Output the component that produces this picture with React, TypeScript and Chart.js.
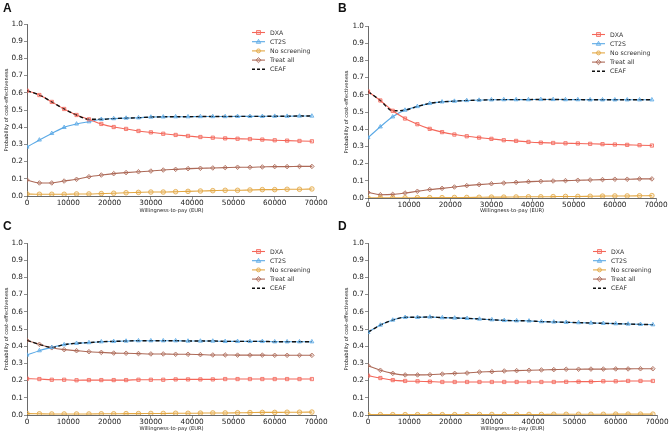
import React, { useEffect, useRef } from 'react';
import { Chart, registerables } from 'chart.js';
Chart.register(...registerables);

const WTP = [0, 3000, 6000, 9000, 12000, 15000, 18000, 21000, 24000, 27000, 30000, 33000, 36000, 39000, 42000, 45000, 48000, 51000, 54000, 57000, 60000, 63000, 66000, 69000];
const X_TICKS = [0, 10000, 20000, 30000, 40000, 50000, 60000, 70000];
const Y_TICKS = [0, 0.1, 0.2, 0.3, 0.4, 0.5, 0.6, 0.7, 0.8, 0.9, 1.0];
const SERIES_NAMES = ['DXA', 'CT2S', 'No screening', 'Treat all', 'CEAF'];
const X_TITLE = 'Willingness-to-pay (EUR)';
const Y_TITLE = 'Probability of cost-effectiveness';

// Panel A
const A_DXA = [0.612, 0.587, 0.547, 0.506, 0.471, 0.446, 0.419, 0.401, 0.390, 0.378, 0.370, 0.362, 0.355, 0.349, 0.343, 0.339, 0.335, 0.333, 0.331, 0.328, 0.324, 0.322, 0.320, 0.318];
const A_CT2S = [0.285, 0.326, 0.364, 0.399, 0.419, 0.432, 0.446, 0.450, 0.453, 0.455, 0.459, 0.460, 0.461, 0.461, 0.462, 0.462, 0.462, 0.463, 0.463, 0.463, 0.464, 0.464, 0.465, 0.465];
const A_NOSCR = [0.012, 0.010, 0.010, 0.010, 0.012, 0.012, 0.014, 0.016, 0.019, 0.021, 0.023, 0.023, 0.025, 0.027, 0.029, 0.031, 0.033, 0.033, 0.035, 0.037, 0.037, 0.039, 0.039, 0.041];
const A_TREAT = [0.093, 0.076, 0.076, 0.087, 0.097, 0.112, 0.122, 0.130, 0.136, 0.141, 0.145, 0.151, 0.155, 0.159, 0.161, 0.163, 0.165, 0.167, 0.167, 0.169, 0.171, 0.171, 0.172, 0.172];
const A_CEAF = [0.612, 0.587, 0.547, 0.506, 0.471, 0.446, 0.446, 0.450, 0.453, 0.455, 0.459, 0.460, 0.461, 0.461, 0.462, 0.462, 0.462, 0.463, 0.463, 0.463, 0.464, 0.464, 0.465, 0.465];

// Panel B
const B_DXA = [0.619, 0.567, 0.507, 0.462, 0.429, 0.402, 0.383, 0.369, 0.359, 0.351, 0.344, 0.336, 0.332, 0.326, 0.322, 0.320, 0.318, 0.317, 0.315, 0.313, 0.311, 0.309, 0.307, 0.305];
const B_CT2S = [0.351, 0.414, 0.472, 0.511, 0.532, 0.550, 0.559, 0.563, 0.567, 0.569, 0.571, 0.572, 0.572, 0.572, 0.573, 0.573, 0.572, 0.572, 0.571, 0.571, 0.571, 0.571, 0.571, 0.571];
const B_NOSCR = [0.001, 0.001, 0.001, 0.001, 0.002, 0.002, 0.002, 0.003, 0.003, 0.004, 0.005, 0.005, 0.006, 0.007, 0.007, 0.008, 0.009, 0.009, 0.010, 0.011, 0.012, 0.012, 0.013, 0.014];
const B_TREAT = [0.033, 0.019, 0.021, 0.029, 0.039, 0.049, 0.056, 0.064, 0.072, 0.078, 0.083, 0.087, 0.091, 0.095, 0.097, 0.099, 0.101, 0.103, 0.105, 0.107, 0.109, 0.109, 0.111, 0.111];
const B_CEAF = [0.619, 0.567, 0.507, 0.511, 0.532, 0.550, 0.559, 0.563, 0.567, 0.569, 0.571, 0.572, 0.572, 0.572, 0.573, 0.573, 0.572, 0.572, 0.571, 0.571, 0.571, 0.571, 0.571, 0.571];

// Panel C
const C_DXA = [0.211, 0.209, 0.205, 0.205, 0.202, 0.203, 0.203, 0.203, 0.203, 0.205, 0.205, 0.205, 0.207, 0.207, 0.207, 0.207, 0.209, 0.209, 0.209, 0.209, 0.209, 0.209, 0.209, 0.209];
const C_CT2S = [0.349, 0.374, 0.393, 0.409, 0.417, 0.421, 0.426, 0.428, 0.430, 0.432, 0.432, 0.432, 0.432, 0.430, 0.430, 0.430, 0.428, 0.428, 0.428, 0.428, 0.426, 0.426, 0.426, 0.426];
const C_NOSCR = [0.008, 0.007, 0.006, 0.006, 0.006, 0.006, 0.007, 0.007, 0.008, 0.008, 0.009, 0.009, 0.010, 0.010, 0.011, 0.012, 0.012, 0.013, 0.014, 0.015, 0.015, 0.016, 0.016, 0.017];
const C_TREAT = [0.434, 0.411, 0.391, 0.380, 0.374, 0.368, 0.364, 0.360, 0.359, 0.357, 0.355, 0.355, 0.353, 0.353, 0.351, 0.349, 0.349, 0.348, 0.348, 0.348, 0.347, 0.347, 0.347, 0.347];
const C_CEAF = [0.434, 0.411, 0.393, 0.409, 0.417, 0.421, 0.426, 0.428, 0.430, 0.432, 0.432, 0.432, 0.432, 0.430, 0.430, 0.430, 0.428, 0.428, 0.428, 0.428, 0.426, 0.426, 0.426, 0.426];

// Panel D
const D_DXA = [0.229, 0.215, 0.203, 0.198, 0.196, 0.194, 0.192, 0.192, 0.192, 0.192, 0.192, 0.192, 0.192, 0.192, 0.192, 0.192, 0.193, 0.194, 0.194, 0.196, 0.196, 0.198, 0.198, 0.198];
const D_CT2S = [0.481, 0.523, 0.552, 0.568, 0.568, 0.570, 0.566, 0.564, 0.562, 0.558, 0.554, 0.550, 0.548, 0.547, 0.543, 0.541, 0.539, 0.537, 0.535, 0.533, 0.531, 0.529, 0.527, 0.525];
const D_NOSCR = [0.002, 0.002, 0.002, 0.002, 0.002, 0.002, 0.002, 0.002, 0.002, 0.003, 0.003, 0.003, 0.003, 0.003, 0.003, 0.004, 0.004, 0.004, 0.004, 0.004, 0.005, 0.005, 0.005, 0.005];
const D_TREAT = [0.287, 0.260, 0.242, 0.233, 0.233, 0.234, 0.238, 0.242, 0.244, 0.250, 0.252, 0.256, 0.258, 0.260, 0.262, 0.264, 0.266, 0.266, 0.267, 0.267, 0.268, 0.268, 0.269, 0.269];
const D_CEAF = [0.481, 0.523, 0.552, 0.568, 0.568, 0.570, 0.566, 0.564, 0.562, 0.558, 0.554, 0.550, 0.548, 0.547, 0.543, 0.541, 0.539, 0.537, 0.535, 0.533, 0.531, 0.529, 0.527, 0.525];

const COLORS = ['#f4675a', '#5aa9e6', '#e3a845', '#ad6a58', '#111111'];
const FILLS = ['rgba(244,103,90,0.25)', 'rgba(90,169,230,0.25)', 'rgba(227,168,69,0.25)', 'rgba(173,106,88,0.25)', 'rgba(0,0,0,0)'];
const STYLES = ['rect', 'triangle', 'circle', 'rectRot', false];

type Panel = {
  letter: string;
  left: number; top: number; width: number; height: number;
  padL: number; padR: number; padT: number;
  yWidth: number; xHeight: number;
  series: number[][];
};

const PANELS: Panel[] = [
  { letter: 'A', left: 0, top: 0, width: 335, height: 218, padL: 0, padR: 19, padT: 24, yWidth: 27, xHeight: 22, series: [A_DXA, A_CT2S, A_NOSCR, A_TREAT, A_CEAF] },
  { letter: 'B', left: 335, top: 0, width: 336, height: 218, padL: 5, padR: 15, padT: 26, yWidth: 28, xHeight: 20, series: [B_DXA, B_CT2S, B_NOSCR, B_TREAT, B_CEAF] },
  { letter: 'C', left: 0, top: 218, width: 335, height: 218, padL: 0, padR: 19, padT: 25, yWidth: 27, xHeight: 21, series: [C_DXA, C_CT2S, C_NOSCR, C_TREAT, C_CEAF] },
  { letter: 'D', left: 335, top: 218, width: 336, height: 218, padL: 5, padR: 14, padT: 25, yWidth: 28, xHeight: 21, series: [D_DXA, D_CT2S, D_NOSCR, D_TREAT, D_CEAF] },
];

function drawMarker(ctx: CanvasRenderingContext2D, style: any, x: number, y: number, r: number) {
  ctx.beginPath();
  if (style === 'rect') {
    ctx.rect(x - r, y - r, 2 * r, 2 * r);
  } else if (style === 'triangle') {
    ctx.moveTo(x, y - r * 1.2);
    ctx.lineTo(x + r * 1.1, y + r * 0.8);
    ctx.lineTo(x - r * 1.1, y + r * 0.8);
    ctx.closePath();
  } else if (style === 'circle') {
    ctx.arc(x, y, r, 0, Math.PI * 2);
  } else if (style === 'rectRot') {
    ctx.moveTo(x, y - r * 1.3);
    ctx.lineTo(x + r * 1.3, y);
    ctx.lineTo(x, y + r * 1.3);
    ctx.lineTo(x - r * 1.3, y);
    ctx.closePath();
  }
  ctx.fill();
  ctx.stroke();
}

const legendPlugin = {
  id: 'customLegend',
  afterDraw(chart: any) {
    const { ctx, chartArea } = chart;
    const x0 = chartArea.right - 64;
    let y = chartArea.top + 8.5;
    for (let i = 0; i < SERIES_NAMES.length; i++) {
      ctx.save();
      ctx.strokeStyle = COLORS[i];
      ctx.lineWidth = i === 4 ? 1.5 : 1.1;
      ctx.setLineDash(i === 4 ? [3, 2] : []);
      ctx.beginPath();
      ctx.moveTo(x0, y);
      ctx.lineTo(x0 + 13, y);
      ctx.stroke();
      ctx.setLineDash([]);
      if (STYLES[i]) {
        ctx.fillStyle = FILLS[i];
        ctx.lineWidth = 0.8;
        drawMarker(ctx, STYLES[i], x0 + 6.5, y, 2);
      }
      ctx.fillStyle = '#333';
      ctx.font = '6.2px "DejaVu Sans"';
      ctx.textBaseline = 'middle';
      ctx.textAlign = 'left';
      ctx.fillText(SERIES_NAMES[i], x0 + 18, y + 0.5);
      ctx.restore();
      y += 9.2;
    }
  },
};

function PanelChart({ p }: { p: Panel }) {
  const ref = useRef<HTMLCanvasElement | null>(null);
  useEffect(() => {
    if (!ref.current) return;
    // lines (no markers)
    const lineSets = p.series.map((vals, i) => ({
      label: SERIES_NAMES[i],
      data: WTP.map((x, j) => ({ x, y: vals[j] })),
      borderColor: COLORS[i],
      backgroundColor: FILLS[i],
      borderWidth: i === 4 ? 1.4 : 1.1,
      borderDash: i === 4 ? [4, 2.5] : [],
      pointRadius: 0,
      cubicInterpolationMode: 'monotone' as const,
      order: i === 4 ? 1 : 2,
      fill: false,
    }));
    // markers on top
    const markerSets = p.series.slice(0, 4).map((vals, i) => ({
      label: SERIES_NAMES[i] + ' markers',
      data: WTP.map((x, j) => ({ x, y: vals[j] })),
      showLine: false,
      borderColor: COLORS[i],
      backgroundColor: FILLS[i],
      pointStyle: STYLES[i] as any,
      pointRadius: 2.3,
      pointBorderWidth: 0.8,
      pointBackgroundColor: FILLS[i],
      pointBorderColor: COLORS[i],
      order: 0,
    }));
    const chart = new Chart(ref.current, {
      type: 'line',
      data: { datasets: [...lineSets, ...markerSets] },
      plugins: [legendPlugin],
      options: {
        responsive: false,
        animation: false,
        layout: { padding: { left: p.padL, right: p.padR, top: p.padT, bottom: 0 } },
        plugins: { legend: { display: false }, tooltip: { enabled: false } },
        scales: {
          x: {
            type: 'linear',
            min: 0,
            max: 70000,
            afterFit: (s: any) => { s.height = p.xHeight; },
            afterBuildTicks: (s: any) => { s.ticks = X_TICKS.map((v) => ({ value: v })); },
            ticks: {
              font: { family: 'DejaVu Sans', size: 7.3 },
              color: '#222',
              padding: 0,
              maxRotation: 0,
              autoSkip: false,
              callback: (v: any) => String(v),
            },
            grid: { drawOnChartArea: false, drawTicks: true, tickLength: 3, color: '#444', lineWidth: 0.6 },
            border: { display: true, color: '#444', width: 0.8 },
            title: { display: true, text: X_TITLE, font: { family: 'DejaVu Sans', size: 5.2 }, color: '#222', padding: { top: 0, bottom: 4 } },
          },
          y: {
            type: 'linear',
            min: 0,
            max: 1,
            afterFit: (s: any) => { s.width = p.yWidth; },
            afterBuildTicks: (s: any) => { s.ticks = Y_TICKS.map((v) => ({ value: v })); },
            ticks: {
              font: { family: 'DejaVu Sans', size: 7.3 },
              color: '#222',
              padding: 1,
              autoSkip: false,
              callback: (v: any) => Number(v).toFixed(1),
            },
            grid: { drawOnChartArea: false, drawTicks: true, tickLength: 3, color: '#444', lineWidth: 0.6 },
            border: { display: true, color: '#444', width: 0.8 },
            title: { display: true, text: Y_TITLE, font: { family: 'DejaVu Sans', size: 5.2 }, color: '#222', padding: { top: 4, bottom: 0 } },
          },
        },
      },
    });
    return () => chart.destroy();
  }, [p]);
  return (
    <div style={{ position: 'absolute', left: p.left, top: p.top, width: p.width, height: p.height }}>
      <canvas ref={ref} width={p.width} height={p.height} style={{ width: p.width, height: p.height, display: 'block' }} />
      <div style={{ position: 'absolute', left: 3, top: 1, fontFamily: '"Liberation Sans", Arial, sans-serif', fontWeight: 'bold', fontSize: 12, lineHeight: '14px', color: '#111' }}>{p.letter}</div>
    </div>
  );
}

export default function App() {
  return (
    <div style={{ position: 'absolute', left: 0, top: 0, width: 671, height: 436, background: '#fff', overflow: 'hidden' }}>
      {PANELS.map((p) => <PanelChart key={p.letter} p={p} />)}
    </div>
  );
}
